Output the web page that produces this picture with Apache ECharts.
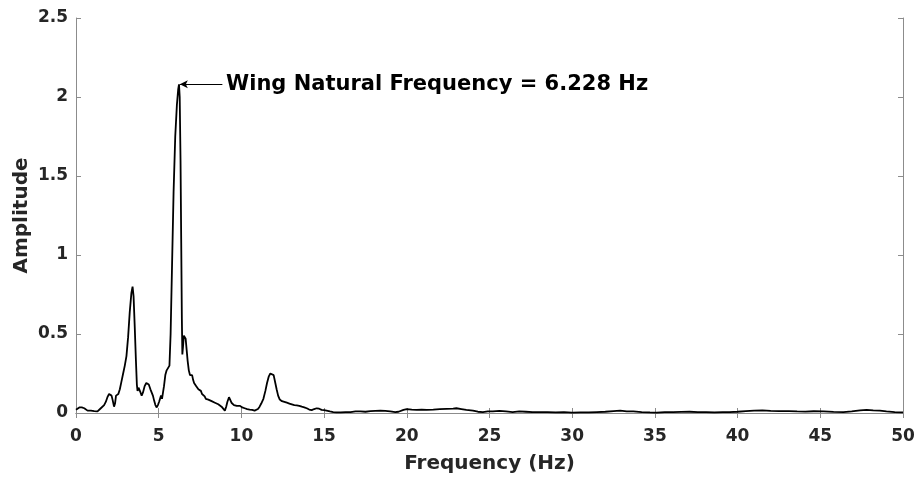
<!DOCTYPE html>
<html>
<head>
<meta charset="utf-8">
<script src="https://cdn.jsdelivr.net/npm/echarts@6/dist/echarts.min.js"></script>
<style>html,body{margin:0;padding:0;background:#fff}#c{width:919px;height:479px}</style>
</head>
<body>
<div id="c"></div>
<script>
const freq = [0.0,0.1,0.2,0.35,0.5,0.6,0.7,0.8,0.9,1.0,1.1,1.2,1.3,1.4,1.5,1.6,1.7,1.8,1.9,2.0,2.08,2.15,2.22,2.3,2.36,2.42,2.5,2.56,2.65,2.75,2.85,2.95,3.05,3.15,3.25,3.35,3.42,3.48,3.55,3.62,3.68,3.72,3.78,3.84,3.9,3.97,4.05,4.15,4.25,4.32,4.4,4.5,4.58,4.65,4.72,4.8,4.88,4.95,5.02,5.08,5.14,5.2,5.25,5.32,5.4,5.48,5.58,5.65,5.72,5.8,5.9,6.0,6.1,6.18,6.228,6.27,6.32,6.36,6.4,6.43,6.47,6.52,6.58,6.63,6.69,6.75,6.82,6.89,6.95,7.02,7.08,7.14,7.2,7.27,7.33,7.4,7.47,7.55,7.62,7.7,7.78,7.85,7.93,8.0,8.1,8.2,8.3,8.4,8.5,8.6,8.7,8.8,8.9,9.0,9.08,9.15,9.25,9.32,9.4,9.48,9.55,9.62,9.72,9.82,9.92,10.05,10.2,10.35,10.5,10.65,10.8,10.9,11.0,11.1,11.2,11.33,11.45,11.55,11.65,11.75,11.85,11.95,12.05,12.13,12.22,12.32,12.45,12.6,12.75,12.9,13.05,13.2,13.35,13.5,13.65,13.8,13.95,14.1,14.25,14.4,14.55,14.7,14.85,15.0,15.15,15.35,15.55,15.75,16.0,16.3,16.6,16.9,17.2,17.5,17.8,18.1,18.4,18.7,19.0,19.3,19.5,19.8,20.0,20.3,20.6,20.9,21.2,21.6,22.0,22.4,22.8,23.0,23.3,23.6,24.0,24.3,24.6,24.9,25.2,25.6,26.0,26.4,26.8,27.2,27.6,28.0,28.5,29.0,29.5,30.0,30.5,31.0,31.5,32.0,32.5,32.9,33.3,33.7,34.2,34.7,35.1,35.6,36.1,36.6,37.1,37.6,38.1,38.6,39.1,39.5,40.0,40.5,41.0,41.5,42.0,42.5,43.1,43.6,44.1,44.6,45.2,45.8,46.4,46.9,47.4,47.8,48.2,48.6,49.0,49.5,50.0];
const amplitude = [0.02,0.03,0.035,0.035,0.03,0.02,0.015,0.012,0.015,0.02,0.012,0.008,0.01,0.018,0.03,0.04,0.05,0.07,0.1,0.12,0.13,0.11,0.08,0.04,0.06,0.11,0.1,0.12,0.15,0.2,0.25,0.3,0.36,0.48,0.64,0.76,0.8,0.74,0.55,0.34,0.18,0.14,0.16,0.17,0.13,0.11,0.13,0.17,0.19,0.195,0.18,0.15,0.14,0.11,0.08,0.05,0.035,0.05,0.07,0.06,0.11,0.09,0.1,0.17,0.24,0.27,0.28,0.3,0.5,0.9,1.4,1.75,1.95,2.05,2.08,2.0,1.6,1.1,0.6,0.37,0.42,0.49,0.5,0.47,0.4,0.33,0.27,0.24,0.25,0.24,0.21,0.19,0.2,0.17,0.17,0.15,0.16,0.14,0.12,0.11,0.105,0.09,0.1,0.085,0.08,0.075,0.07,0.065,0.06,0.055,0.05,0.04,0.035,0.015,0.04,0.07,0.1,0.09,0.065,0.06,0.05,0.055,0.045,0.04,0.045,0.035,0.03,0.025,0.022,0.02,0.015,0.015,0.025,0.04,0.06,0.09,0.14,0.19,0.23,0.25,0.255,0.24,0.19,0.15,0.11,0.085,0.075,0.07,0.065,0.06,0.055,0.05,0.048,0.045,0.04,0.036,0.03,0.022,0.018,0.025,0.03,0.027,0.02,0.018,0.015,0.01,0.006,0.004,0.004,0.005,0.006,0.01,0.01,0.008,0.012,0.014,0.015,0.013,0.01,0.005,0.008,0.02,0.025,0.022,0.02,0.022,0.02,0.021,0.024,0.026,0.028,0.03,0.025,0.02,0.015,0.008,0.005,0.01,0.01,0.014,0.01,0.006,0.01,0.008,0.005,0.005,0.006,0.004,0.005,0.003,0.004,0.004,0.006,0.008,0.012,0.015,0.01,0.01,0.006,0.004,0.003,0.005,0.006,0.007,0.008,0.006,0.005,0.004,0.005,0.005,0.008,0.012,0.015,0.017,0.014,0.012,0.012,0.01,0.009,0.011,0.01,0.007,0.005,0.01,0.016,0.02,0.017,0.015,0.01,0.006,0.004];
const peakFreq = 6.228;
const peakAmp = 2.08;
const annotationText = 'Wing Natural Frequency = 6.228 Hz';
const xName = 'Frequency (Hz)';
const yName = 'Amplitude';

const points = freq.map((f, i) => [f, amplitude[i]]);
const txt = '#262626';
const axisCol = '#8c8c8c';
const font = 'DejaVu Sans';

const chart = echarts.init(document.getElementById('c'), null, {renderer: 'canvas'});
const baseX = {type: 'value', min: 0, max: 50, interval: 5,
  axisLine: {show: true, lineStyle: {color: axisCol, width: 1}},
  axisTick: {show: true, inside: true, length: 5, lineStyle: {color: axisCol}},
  splitLine: {show: false}};
const baseY = {type: 'value', min: 0, max: 2.5, interval: 0.5,
  axisLine: {show: true, onZero: false, lineStyle: {color: axisCol, width: 1}},
  axisTick: {show: true, inside: true, length: 5, lineStyle: {color: axisCol}},
  splitLine: {show: false}};
chart.setOption({
  animation: false,
  backgroundColor: '#fff',
  grid: {left: 76, top: 18, right: 16, bottom: 65},
  xAxis: [
    Object.assign({}, baseX, {position: 'bottom',
      name: xName, nameLocation: 'middle', nameGap: 41,
      nameTextStyle: {color: txt, fontFamily: font, fontWeight: 'bold', fontSize: 20},
      axisLabel: {color: txt, fontFamily: font, fontWeight: 'bold', fontSize: 17, margin: 15}}),
    Object.assign({}, baseX, {position: 'top', axisLabel: {show: false}})
  ],
  yAxis: [
    Object.assign({}, baseY, {position: 'left',
      name: yName, nameLocation: 'middle', nameGap: 44, nameMoveOverlap: false,
      nameTextStyle: {color: txt, fontFamily: font, fontWeight: 'bold', fontSize: 20},
      axisLabel: {color: txt, fontFamily: font, fontWeight: 'bold', fontSize: 17, margin: 8}}),
    Object.assign({}, baseY, {position: 'right', axisLabel: {show: false}})
  ],
  series: [{
    type: 'line', data: points, showSymbol: false, symbol: 'none',
    lineStyle: {color: '#000', width: 1.8},
    markLine: {
      silent: true, animation: false,
      lineStyle: {color: '#000', width: 1, type: 'solid'},
      label: {show: false},
      data: [[
        {coord: [8.85, peakAmp], symbol: 'none'},
        {coord: [peakFreq + 0.05, peakAmp], symbol: 'arrow', symbolSize: [6, 8]}
      ]]
    },
    markPoint: {
      silent: true, animation: false,
      symbol: 'circle', symbolSize: 0,
      data: [{coord: [8.95, peakAmp], value: 0,
        label: {show: true, position: 'right', distance: 2, formatter: annotationText,
          color: '#000', fontFamily: font, fontWeight: 'bold', fontSize: 21}}]
    }
  }]
});
</script>
</body>
</html>
